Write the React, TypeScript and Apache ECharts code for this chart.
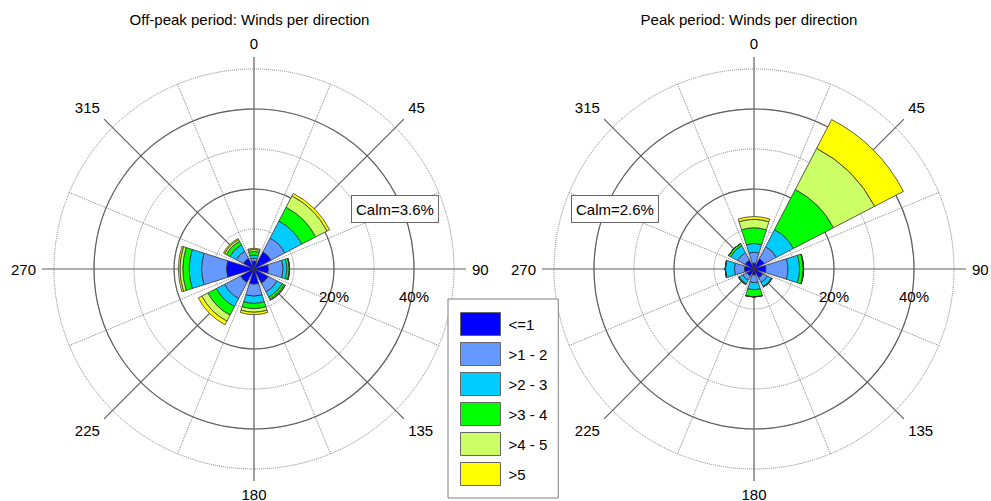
import React, { useEffect, useRef } from 'react';
import * as echarts from 'echarts';

// ---------- data ----------
const directions = ['N', 'NE', 'E', 'SE', 'S', 'SW', 'W', 'NW'];
const speedClasses = ['<=1', '>1 - 2', '>2 - 3', '>3 - 4', '>4 - 5', '>5'];
const titles = ['Off-peak period: Winds per direction', 'Peak period: Winds per direction'];
const calmPercent = [3.6, 2.6];
const compassTicks = [0, 45, 90, 135, 180, 225, 270, 315];
const radiusTickLabels = [20, 40];

// Off-peak: % of time, per direction, per wind-speed class
const offPeakLe1 = [2.0, 4.8, 3.6, 4.0, 3.8, 3.8, 6.9, 3.0];
const offPeak1to2 = [0.7, 3.9, 3.7, 2.5, 3.0, 4.5, 6.2, 2.0];
const offPeak2to3 = [0.8, 4.8, 0.9, 1.4, 1.8, 2.3, 3.1, 1.8];
const offPeak3to4 = [0.9, 3.9, 0.6, 0.6, 1.3, 2.4, 1.6, 1.0];
const offPeak4to5 = [0.5, 3.2, 0.1, 0.3, 0.9, 1.7, 0.7, 0.5];
const offPeakGt5 = [0.3, 0.7, 0.0, 0.0, 0.6, 1.0, 0.4, 0.3];

// Peak
const peakLe1 = [1.5, 2.9, 3.0, 2.5, 1.5, 2.0, 2.4, 2.5];
const peak1to2 = [2.7, 3.4, 5.5, 1.3, 1.9, 1.2, 2.5, 2.1];
const peak2to3 = [2.2, 4.8, 2.9, 1.1, 1.8, 1.0, 2.3, 2.0];
const peak3to4 = [3.9, 11.3, 0.9, 0.2, 1.8, 0.2, 0.0, 0.6];
const peak4to5 = [2.1, 11.6, 0.1, 0.0, 0.0, 0.0, 0.0, 0.0];
const peakGt5 = [0.7, 8.1, 0.0, 0.0, 0.0, 0.0, 0.0, 0.0];

const offPeakSeries = [offPeakLe1, offPeak1to2, offPeak2to3, offPeak3to4, offPeak4to5, offPeakGt5];
const peakSeries = [peakLe1, peak1to2, peak2to3, peak3to4, peak4to5, peakGt5];

// ---------- style / layout ----------
const FONT = "'Liberation Sans', Arial, Helvetica, sans-serif";
const classColors = ['#0000ff', '#6699ff', '#00ccff', '#00ff00', '#ccff66', '#ffff00'];
const DOT = '#808080';
const SOLID = '#5f5f5f';
const roseLayout = [
  { cx: 254, cy: 269, titleX: 249.5, calmX: 352, calmY: 196 },
  { cx: 754, cy: 269, titleX: 749, calmX: 572, calmY: 196 },
];
const R_BARS = 200; // 50%
const R_SOLID = 160; // 40%
const R_SPOKES = 212;

function buildOption() {
  const polar: any[] = [];
  const angleAxis: any[] = [];
  const radiusAxis: any[] = [];
  const series: any[] = [];
  const title: any[] = [];
  const graphic: any[] = [];
  const datasets = [offPeakSeries, peakSeries];

  roseLayout.forEach((L, i) => {
    const base = i * 3;
    const center = [L.cx, L.cy];
    polar.push({ center, radius: R_BARS });
    polar.push({ center, radius: R_SOLID });
    polar.push({ center, radius: R_SPOKES });

    // bars polar: category angles, dotted grid
    angleAxis.push({
      polarIndex: base,
      type: 'category',
      data: directions,
      startAngle: 112.5,
      clockwise: true,
      boundaryGap: true,
      axisLine: { show: false },
      axisTick: { show: false },
      axisLabel: { show: false },
      splitLine: { show: true, lineStyle: { type: 'dotted', color: DOT, width: 1 } },
      z: 0,
    });
    radiusAxis.push({
      polarIndex: base,
      type: 'value',
      min: 0,
      max: 50,
      interval: 10,
      axisLine: { show: false },
      axisTick: { show: false },
      axisLabel: { show: false },
      splitLine: { show: true, lineStyle: { type: 'dotted', color: DOT, width: 1 } },
      z: 0,
    });

    // solid circles with % labels
    angleAxis.push({
      polarIndex: base + 1,
      type: 'value',
      min: 0,
      max: 360,
      startAngle: 0,
      show: false,
    });
    radiusAxis.push({
      polarIndex: base + 1,
      type: 'value',
      min: 0,
      max: 40,
      interval: 20,
      axisLine: { show: false },
      axisTick: { show: false },
      axisLabel: {
        show: true,
        margin: -35,
        fontSize: 15,
        color: '#000',
        fontFamily: FONT,
        formatter: (v: number) => (radiusTickLabels.indexOf(v) >= 0 ? v + '%' : ''),
      },
      splitLine: { show: true, lineStyle: { color: SOLID, width: 1.2 } },
      z: 1,
    });

    // solid spokes with compass labels
    angleAxis.push({
      polarIndex: base + 2,
      type: 'value',
      min: 0,
      max: 360,
      interval: 45,
      startAngle: 90,
      clockwise: true,
      axisLine: { show: false },
      axisTick: { show: false },
      axisLabel: {
        show: true,
        margin: 6,
        fontSize: 15,
        color: '#000',
        fontFamily: FONT,
        formatter: (v: number) => (compassTicks.indexOf(v) >= 0 ? String(v) : ''),
      },
      splitLine: { show: true, lineStyle: { color: SOLID, width: 1.2 } },
      z: 1,
    });
    radiusAxis.push({
      polarIndex: base + 2,
      type: 'value',
      min: 0,
      max: 1,
      show: false,
    });

    datasets[i].forEach((vals, k) => {
      series.push({
        type: 'bar',
        name: speedClasses[k],
        coordinateSystem: 'polar',
        polarIndex: base,
        stack: 'rose' + i,
        barCategoryGap: '22%',
        data: vals,
        itemStyle: { color: classColors[k], borderColor: '#333', borderWidth: 0.8 },
        emphasis: { disabled: true },
        z: 2,
      });
    });

    title.push({
      text: titles[i],
      left: L.titleX,
      top: 12,
      textAlign: 'center',
      padding: 0,
      textStyle: { fontSize: 15, fontWeight: 'normal', color: '#000', fontFamily: FONT },
    });

    graphic.push({
      type: 'text',
      x: L.calmX,
      y: L.calmY,
      z: 10,
      style: {
        text: 'Calm=' + calmPercent[i].toFixed(1) + '%',
        fontSize: 15,
        fontFamily: FONT,
        fill: '#000',
        align: 'left',
        verticalAlign: 'top',
        lineHeight: 18,
        backgroundColor: '#fff',
        borderColor: '#666',
        borderWidth: 1,
        padding: [4, 4, 4, 4],
      },
    });
  });

  return {
    animation: false,
    backgroundColor: '#fff',
    textStyle: { fontFamily: FONT },
    title,
    polar,
    angleAxis,
    radiusAxis,
    legend: {
      data: speedClasses,
      orient: 'vertical',
      left: 448,
      top: 299,
      height: 176,
      itemWidth: 40,
      itemHeight: 23,
      itemGap: 6,
      padding: [13, 11, 12, 12],
      borderColor: '#808080',
      borderWidth: 1,
      backgroundColor: '#fff',
      icon: 'rect',
      selectedMode: false,
      itemStyle: { borderColor: '#666', borderWidth: 1 },
      textStyle: { fontSize: 15, color: '#000', fontFamily: FONT, padding: [0, 0, 0, 3] },
      z: 5,
    },
    series,
    graphic,
  };
}

export default function App() {
  const ref = useRef<HTMLDivElement>(null);
  useEffect(() => {
    if (!ref.current) return;
    const chart = echarts.init(ref.current, undefined, { renderer: 'svg' });
    chart.setOption(buildOption() as any);
    return () => chart.dispose();
  }, []);
  return (
    <div
      ref={ref}
      style={{ position: 'absolute', left: 0, top: 0, width: 991, height: 501, background: '#fff' }}
    />
  );
}
